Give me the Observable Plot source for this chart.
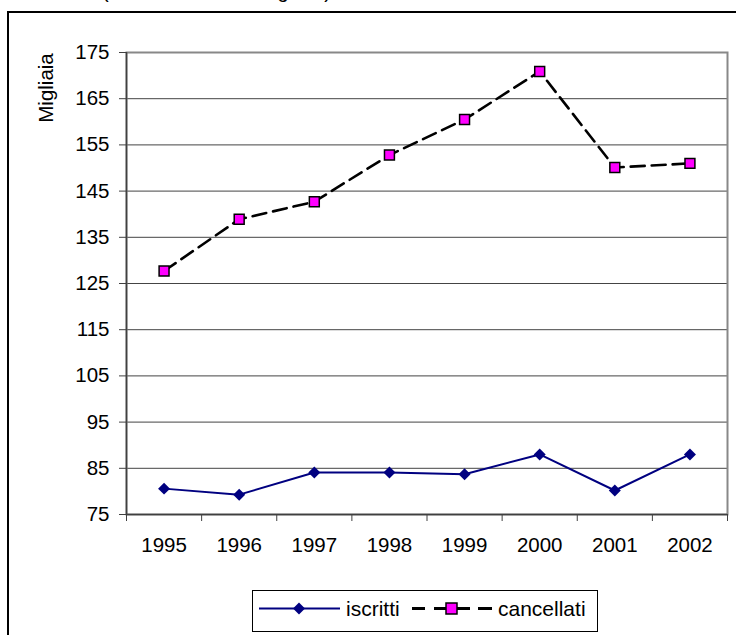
<!DOCTYPE html>
<html>
<head>
<meta charset="utf-8">
<script src="https://cdn.jsdelivr.net/npm/d3@7"></script>
<script src="https://cdn.jsdelivr.net/npm/@observablehq/plot@0.6"></script>
<style>
  html, body { margin: 0; padding: 0; background: white; }
  body { width: 736px; height: 635px; overflow: hidden; position: relative; font-family: "Liberation Sans", Arial, sans-serif; }
  #outer { position: absolute; left: 7px; top: 11px; width: 800px; height: 700px; border-left: 2px solid #000; border-top: 2px solid #000; box-sizing: border-box; }
  #toptext { position: absolute; left: 102px; top: -19px; font-size: 20px; line-height: 20px; white-space: nowrap; color: #000; }
  #chart { position: absolute; left: 0; top: 0; }
  #legend { position: absolute; left: 252px; top: 590px; width: 346px; height: 42px; border: 1.5px solid #000; box-sizing: border-box; background: white; }
</style>
</head>
<body>
<div id="outer"></div>
<div id="toptext">(valori assoluti in migliaia)</div>
<div id="chart"></div>
<div id="legend"></div>
<script>
// ---- data ----
const years = [1995, 1996, 1997, 1998, 1999, 2000, 2001, 2002];
const iscritti = [80.6, 79.3, 84.1, 84.1, 83.7, 88.0, 80.2, 88.0];
const cancellati = [127.7, 138.9, 142.7, 152.8, 160.5, 170.9, 150.1, 151.0];
const yTicks = [75, 85, 95, 105, 115, 125, 135, 145, 155, 165, 175];
const seriesNames = ["iscritti", "cancellati"];
const yLabel = "Migliaia";

const rowsI = years.map((y, i) => ({year: y, value: iscritti[i]}));
const rowsC = years.map((y, i) => ({year: y, value: cancellati[i]}));
const xMin = years[0] - 0.5, xMax = years[years.length - 1] + 0.5;
const bounds = years.map(y => y - 0.5).concat([xMax]);

const plot = Plot.plot({
  width: 736,
  height: 590,
  marginLeft: 126,
  marginRight: 9,
  marginTop: 52,
  marginBottom: 76,
  style: {background: "transparent", fontSize: "20px", fontFamily: "'Liberation Sans', Arial, sans-serif", color: "#000"},
  x: {type: "linear", domain: [xMin, xMax]},
  y: {domain: [yTicks[0], yTicks[yTicks.length - 1]]},
  marks: [
    Plot.gridY(yTicks, {stroke: "#444", strokeOpacity: 1, strokeWidth: 1}),
    Plot.frame({stroke: "#888", strokeWidth: 2}),
    Plot.ruleX([xMin], {stroke: "#404040", strokeWidth: 1.5}),
    Plot.ruleY([yTicks[0]], {stroke: "#404040", strokeWidth: 1.5}),
    Plot.axisY({ticks: yTicks, tickSize: 7, tickPadding: 10, tickFormat: d => String(d), label: null, stroke: "#404040", fill: "#000", fontSize: 20.5}),
    Plot.axisX({ticks: bounds, tickSize: 7, tickFormat: () => "", label: null, stroke: "#404040"}),
    Plot.axisX({ticks: years, tickSize: 0, tickPadding: 23, tickFormat: d => String(d), label: null, fill: "#000", fontSize: 20.5}),
    Plot.line(rowsI, {x: "year", y: "value", stroke: "#000080", strokeWidth: 2}),
    Plot.dot(rowsI, {x: "year", y: "value", symbol: "diamond2", r: 5.4, fill: "#000080", stroke: "none"}),
    Plot.line(rowsC, {x: "year", y: "value", stroke: "#000", strokeWidth: 2.6, strokeDasharray: "14,7"}),
    Plot.dot(rowsC, {x: "year", y: "value", symbol: "square", r: 5.6, fill: "#FF00FF", stroke: "#000", strokeWidth: 1.5})
  ]
});
document.getElementById("chart").appendChild(plot);

// rotated y-axis label
d3.select(plot).append("text")
  .attr("transform", "translate(46,88) rotate(-90)")
  .attr("text-anchor", "middle")
  .attr("dy", "0.35em")
  .attr("font-size", 20.5)
  .attr("fill", "#000")
  .text(yLabel);

// legend
const lg = d3.select("#legend").append("svg")
  .attr("width", 343).attr("height", 39)
  .style("position", "absolute").style("left", "0px").style("top", "0px")
  .style("font-family", "'Liberation Sans', Arial, sans-serif");
const cy = 17.5;
lg.append("line").attr("x1", 6).attr("x2", 87).attr("y1", cy).attr("y2", cy).attr("stroke", "#000080").attr("stroke-width", 2);
lg.append("path").attr("d", d3.symbol(d3.symbolDiamond2, 92)()).attr("transform", `translate(46,${cy})`).attr("fill", "#000080");
lg.append("text").attr("x", 93).attr("y", cy + 7.5).attr("font-size", 21).attr("fill", "#000").text(seriesNames[0]);
[[159, 172], [181, 217], [225, 239]].forEach(([a, b]) => {
  lg.append("line").attr("x1", a).attr("x2", b).attr("y1", cy).attr("y2", cy).attr("stroke", "#000").attr("stroke-width", 3);
});
lg.append("rect").attr("x", 193).attr("y", cy - 5.5).attr("width", 11).attr("height", 11).attr("fill", "#FF00FF").attr("stroke", "#000").attr("stroke-width", 1.5);
lg.append("text").attr("x", 245).attr("y", cy + 7.5).attr("font-size", 21).attr("fill", "#000").text(seriesNames[1]);
</script>
</body>
</html>
